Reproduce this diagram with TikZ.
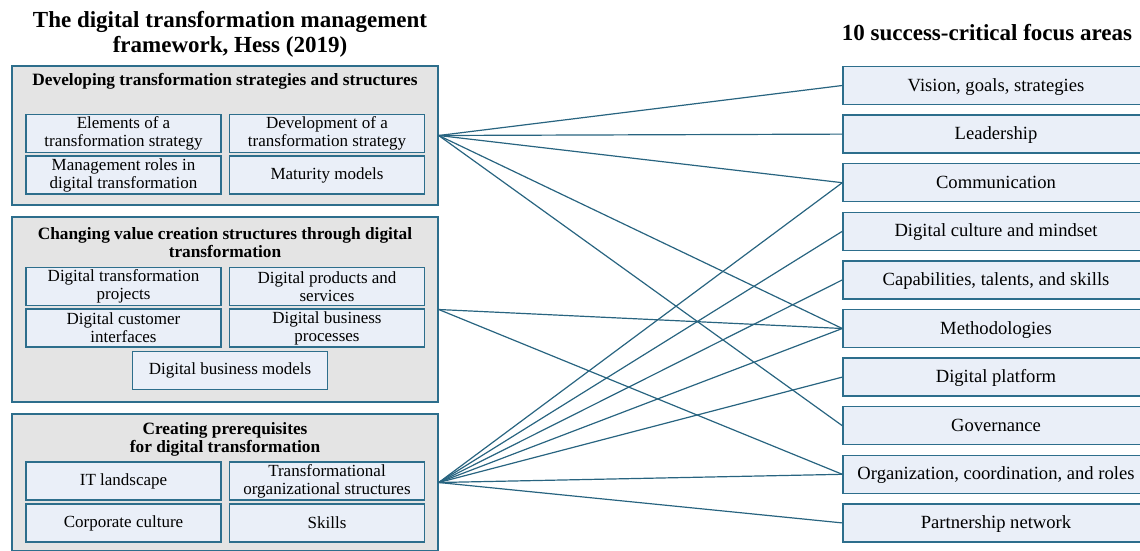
\documentclass[tikz,border=0pt]{standalone}
\usepackage{fontspec}
\setmainfont{Liberation Serif}
\definecolor{framecol}{RGB}{45,110,140}
\definecolor{linecol}{RGB}{40,100,128}
\definecolor{grpfill}{RGB}{228,228,228}
\definecolor{boxfill}{RGB}{234,239,248}

\begin{document}
\begin{tikzpicture}[x=1pt,y=-1pt,
grpbox/.style={draw=framecol,fill=grpfill,line width=1.4pt,minimum width=426pt,inner sep=0pt},
itembox/.style={draw=framecol,fill=boxfill,line width=1.4pt,minimum width=195pt,minimum height=38pt,inner sep=0pt,align=center,font=\fontsize{17}{18}\selectfont},
areabox/.style={draw=framecol,fill=boxfill,line width=1.4pt,minimum width=306pt,minimum height=38pt,inner sep=0pt,text height=14pt,text depth=3pt,font=\fontsize{18.6}{20}\selectfont},
grphead/.style={align=center,inner sep=0pt,font=\bfseries\fontsize{17.3}{18}\selectfont},
headtitle/.style={align=center,inner sep=0pt,font=\bfseries\fontsize{23}{25}\selectfont},
conn/.style={draw=linecol,line width=1.2pt}]

\clip (0,0) rectangle (1140,550);

\draw (230,34) node[headtitle] (ttl) {The digital transformation management\\framework, Hess (2019)};
\draw (987,32.5) node[headtitle] (ttlb) {10 success-critical focus areas};

% framework groups
\draw (225,135.5) node[grpbox,minimum height=139pt] (grp1) {};
\draw (225,309.5) node[grpbox,minimum height=185pt] (grp2) {};
\draw (225,482.5) node[grpbox,minimum height=137pt] (grp3) {};

\draw (225,81.5) node[grphead] (head1) {Developing transformation strategies and structures};
\draw (225,243) node[grphead] (head2) {Changing value creation structures through digital\\transformation};
\draw (225,439) node[grphead] (head3) {Creating prerequisites\\for digital transformation};

\draw (123.5,133.5) node[itembox] (elem) {Elements of a\\transformation strategy};
\draw (327,133.5) node[itembox] (devel) {Development of a\\transformation strategy};
\draw (123.5,175) node[itembox] (roles) {Management roles in\\digital transformation};
\draw (327,175) node[itembox] (matur) {Maturity models};

\draw (123.5,286.5) node[itembox] (proj) {Digital transformation\\projects};
\draw (327,286.5) node[itembox] (prod) {Digital products and\\services};
\draw (123.5,328) node[itembox] (cust) {Digital customer\\interfaces};
\draw (327,328) node[itembox] (proc) {Digital business\\processes};
\draw (230,370.5) node[itembox] (bmod) {Digital business models};

\draw (123.5,481) node[itembox] (itland) {IT landscape};
\draw (327,481) node[itembox] (orgstr) {Transformational\\organizational structures};
\draw (123.5,523) node[itembox] (corp) {Corporate culture};
\draw (327,523) node[itembox] (skills) {Skills};

% focus areas
\draw (996,85.5) node[areabox] (vis) {Vision, goals, strategies};
\draw (996,134.1) node[areabox] (lead) {Leadership};
\draw (996,182.7) node[areabox] (comm) {Communication};
\draw (996,231.3) node[areabox] (cult) {Digital culture and mindset};
\draw (996,279.9) node[areabox] (cap) {Capabilities, talents, and skills};
\draw (996,328.5) node[areabox] (meth) {Methodologies};
\draw (996,377.1) node[areabox] (plat) {Digital platform};
\draw (996,425.7) node[areabox] (gov) {Governance};
\draw (996,474.3) node[areabox] (org) {Organization, coordination, and roles};
\draw (996,522.9) node[areabox] (part) {Partnership network};

\draw[conn] (grp1.east) -- (vis.west);
\draw[conn] (grp1.east) -- (lead.west);
\draw[conn] (grp1.east) -- (comm.west);
\draw[conn] (grp1.east) -- (meth.west);
\draw[conn] (grp1.east) -- (gov.west);
\draw[conn] (grp2.east) -- (meth.west);
\draw[conn] (grp2.east) -- (org.west);
\draw[conn] (grp3.east) -- (comm.west);
\draw[conn] (grp3.east) -- (cult.west);
\draw[conn] (grp3.east) -- (cap.west);
\draw[conn] (grp3.east) -- (meth.west);
\draw[conn] (grp3.east) -- (plat.west);
\draw[conn] (grp3.east) -- (org.west);
\draw[conn] (grp3.east) -- (part.west);
\end{tikzpicture}
\end{document}
